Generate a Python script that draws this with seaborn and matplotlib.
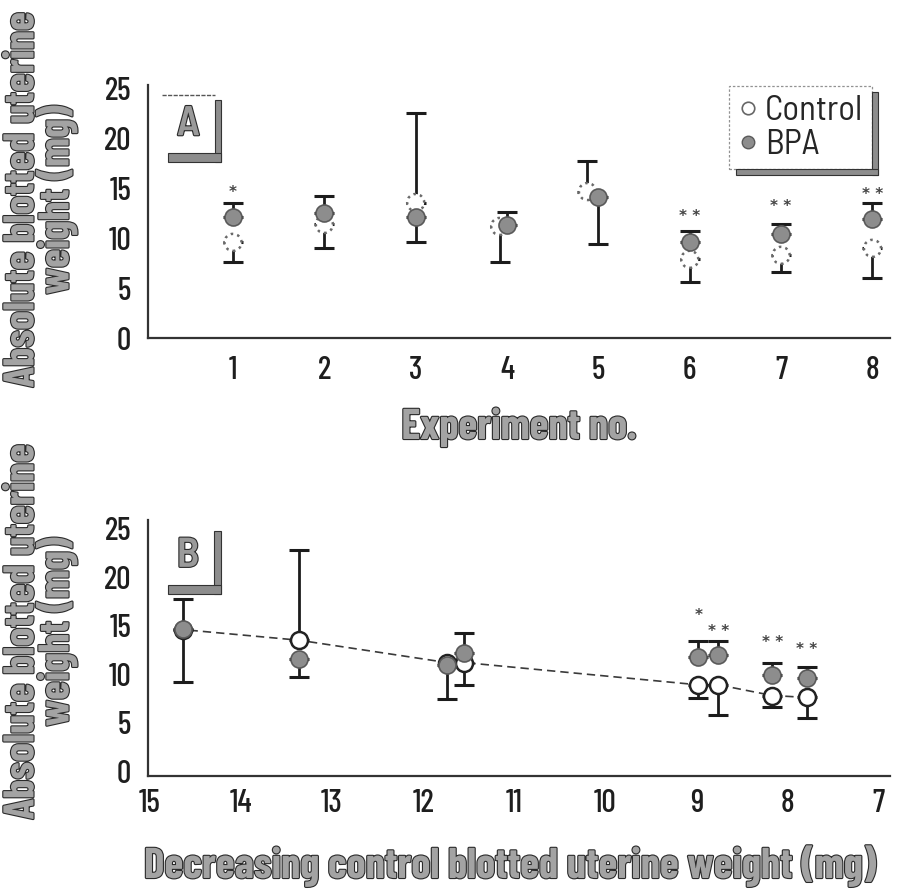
import numpy as np
import pandas as pd
import matplotlib
matplotlib.use("Agg")
import matplotlib.pyplot as plt
import matplotlib.patheffects as pe
from matplotlib.patches import Rectangle
from matplotlib.lines import Line2D
import seaborn as sns

# ---------------- data ----------------
experiments = [1, 2, 3, 4, 5, 6, 7, 8]
a_control = [9.6, 11.4, 13.6, 11.2, 14.7, 7.9, 8.3, 9.0]
a_bpa = [12.1, 12.5, 12.1, 11.3, 14.2, 9.6, 10.4, 11.9]
a_bar_top = [13.6, 14.3, 22.6, 12.7, 17.8, 10.7, 11.4, 13.6]
a_bar_bottom = [7.6, 9.0, 9.6, 7.6, 9.4, 5.6, 6.6, 6.0]
a_signif = ["*", "", "", "", "", "* *", "* *", "* *"]
a_signif_y = [14.6, np.nan, np.nan, np.nan, np.nan, 12.2, 13.2, 14.4]

b_control_mean = [14.64, 13.36, 11.74, 11.55, 8.98, 8.76, 8.17, 7.79]
b_control = [14.6, 13.5, 11.2, 11.2, 8.9, 8.9, 7.8, 7.6]
b_bpa = [14.7, 11.6, 10.9, 12.2, 11.8, 12.0, 9.9, 9.6]
b_bar_top = [17.8, 22.8, np.nan, 14.2, 13.4, 13.4, 11.2, 10.7]
b_bar_bottom = [9.2, 9.7, 7.4, 8.9, 7.5, 5.8, 6.6, 5.5]
b_signif = ["", "", "", "", "*", "* *", "* *", "* *"]
b_signif_y = [np.nan, np.nan, np.nan, np.nan, 16.1, 14.4, 13.3, 12.5]

y_ticks = [0, 5, 10, 15, 20, 25]
b_x_ticks = [15, 14, 13, 12, 11, 10, 9, 8, 7]
ylabel_text = "Absolute blotted uterine\nweight (mg)"
a_xlabel = "Experiment no."
b_xlabel = "Decreasing control blotted uterine weight (mg)"
legend_labels = ["Control", "BPA"]

# small horizontal dodge of control markers in panel A (style only)
a_dodge = [0, 0, 0, -0.08, -0.12, 0, 0, 0]

# ---------------- style ----------------
sns.set_style("white")
COND = ["Barlow Condensed", "DejaVu Sans"]
SEMI = ["Barlow Semi Condensed", "DejaVu Sans"]
plt.rcParams["font.family"] = COND

FILL = "#8d8d8d"
FILL_EDGE = "#5a5a5a"
BAR = "#1c1c1c"
TICK_COLOR = "#1e1e1e"
outline = [pe.Stroke(linewidth=1.6, foreground="#2a2a2a"), pe.Normal()]

fig = plt.figure(figsize=(8.97, 8.91), dpi=100)
axA = fig.add_axes([0.165, 1 - 338 / 891, 0.827, (338 - 85) / 891])
axB = fig.add_axes([0.165, 1 - 776 / 891, 0.827, (776 - 520) / 891])


def draw_bars(ax, xc, yc, xb, yb, top, bottom):
    xc, yc, xb, yb = map(np.asarray, (xc, yc, xb, yb))
    top, bottom = np.asarray(top, float), np.asarray(bottom, float)
    hi_is_ctrl = yc >= yb
    x_hi = np.where(hi_is_ctrl, xc, xb)
    y_hi = np.where(hi_is_ctrl, yc, yb)
    x_lo = np.where(hi_is_ctrl, xb, xc)
    y_lo = np.where(hi_is_ctrl, yb, yc)
    m = ~np.isnan(top)
    ax.errorbar(x_hi[m], y_hi[m], yerr=[np.zeros(m.sum()), top[m] - y_hi[m]],
                fmt="none", ecolor=BAR, elinewidth=2.0, capsize=7, capthick=2.2,
                zorder=2)
    m = ~np.isnan(bottom)
    ax.errorbar(x_lo[m], y_lo[m], yerr=[y_lo[m] - bottom[m], np.zeros(m.sum())],
                fmt="none", ecolor=BAR, elinewidth=2.0, capsize=7, capthick=2.2,
                zorder=2)


def panel_box(ax, letter, x0, y0, w, h, top_line=True):
    ax.add_patch(Rectangle((x0, y0), w, h, transform=ax.transAxes,
                           facecolor="white", edgecolor="none", clip_on=False,
                           zorder=4))
    if top_line:
        ax.add_line(Line2D([x0, x0 + w], [y0 + h, y0 + h], transform=ax.transAxes,
                           color="#555", lw=1.0, ls=(0, (3, 1)), clip_on=False,
                           zorder=5))
    sw, sh = 0.009, 0.035
    ax.add_patch(Rectangle((x0 + w, y0 - sh), sw, h * 0.92 + sh,
                           transform=ax.transAxes, facecolor=FILL,
                           edgecolor="#333", lw=0.8, clip_on=False, zorder=5))
    ax.add_patch(Rectangle((x0 + 0.008, y0 - sh), w - 0.008 + sw, sh,
                           transform=ax.transAxes, facecolor=FILL,
                           edgecolor="#333", lw=0.8, clip_on=False, zorder=5))
    ax.text(x0 + w / 2, y0 + h * 0.5, letter, transform=ax.transAxes,
            ha="center", va="center", fontsize=30, fontweight="semibold",
            family=SEMI, color="#9a9a9a", path_effects=outline, zorder=6)


def style_axes(ax):
    sns.despine(ax=ax)
    for s in ("left", "bottom"):
        ax.spines[s].set_linewidth(1.6)
        ax.spines[s].set_color("#333")
    ax.tick_params(length=0, labelsize=23, colors=TICK_COLOR)
    for lab in ax.get_xticklabels() + ax.get_yticklabels():
        lab.set_fontweight("medium")
    ax.set_xlabel("")
    ax.set_ylabel("")
    ax.grid(False)


# ---------------- panel A ----------------
a_ctrl_x = np.array(experiments) + np.array(a_dodge)
dfA_c = pd.DataFrame({"x": a_ctrl_x, "y": a_control})
dfA_b = pd.DataFrame({"x": experiments, "y": a_bpa})
draw_bars(axA, a_ctrl_x, a_control, experiments, a_bpa, a_bar_top, a_bar_bottom)
sns.scatterplot(data=dfA_c, x="x", y="y", ax=axA, s=150, color="white",
                edgecolor="#6a6a6a", linewidth=1.8, linestyle=":", zorder=3,
                legend=False)
sns.scatterplot(data=dfA_b, x="x", y="y", ax=axA, s=150, color=FILL,
                edgecolor=FILL_EDGE, linewidth=1.2, zorder=4, legend=False)
for x, t, y in zip(experiments, a_signif, a_signif_y):
    if t:
        axA.text(x, y, t, ha="center", va="center", fontsize=11,
                 family="DejaVu Sans", color="#444", fontweight="bold")

axA.set_xlim(0.07, 8.19)
axA.set_ylim(0, 25.4)
axA.set_xticks(experiments)
axA.set_yticks(y_ticks)
style_axes(axA)
axA.tick_params(axis="x", pad=13)
axA.tick_params(axis="y", pad=12)

panel_box(axA, "A", 0.019, 0.73, 0.071, 0.23)

handles = [Line2D([], [], ls="", marker="o", ms=9, mfc="white", mec="#666",
                  mew=1.2, label=legend_labels[0]),
           Line2D([], [], ls="", marker="o", ms=9, mfc=FILL, mec=FILL_EDGE,
                  mew=1.0, label=legend_labels[1])]
leg = axA.legend(handles=handles, loc="upper right", bbox_to_anchor=(0.976, 0.995),
                 frameon=True, fancybox=False, edgecolor="#777",
                 prop={"size": 25, "family": SEMI}, handlelength=0.6,
                 handletextpad=0.2, borderpad=0.25, labelspacing=0.05,
                 borderaxespad=0.0)
leg.get_frame().set_linewidth(0.9)
leg.get_frame().set_linestyle((0, (2, 1.5)))
leg.set_zorder(7)

# ---------------- panel B ----------------
dfB_line = pd.DataFrame({"x": b_control_mean, "y": b_control})
sns.lineplot(data=dfB_line, x="x", y="y", ax=axB, color="#3a3a3a", lw=1.2,
             linestyle=(0, (5, 3)), zorder=1, sort=True)
draw_bars(axB, b_control_mean, b_control, b_control_mean, b_bpa,
          b_bar_top, b_bar_bottom)
sns.scatterplot(data=dfB_line, x="x", y="y", ax=axB, s=150, color="white",
                edgecolor="#222", linewidth=1.8, zorder=3, legend=False)
dfB_b = pd.DataFrame({"x": b_control_mean, "y": b_bpa})
sns.scatterplot(data=dfB_b, x="x", y="y", ax=axB, s=150, color=FILL,
                edgecolor=FILL_EDGE, linewidth=1.2, zorder=4, legend=False)
for x, t, y in zip(b_control_mean, b_signif, b_signif_y):
    if t:
        axB.text(x, y, t, ha="center", va="center", fontsize=11,
                 family="DejaVu Sans", color="#444", fontweight="bold")

axB.set_xlim(15.02, 6.88)
axB.set_ylim(-0.5, 25.9)
axB.set_xticks(b_x_ticks)
axB.set_yticks(y_ticks)
style_axes(axB)
axB.tick_params(axis="x", pad=9)
axB.tick_params(axis="y", pad=12)

panel_box(axB, "B", 0.019, 0.745, 0.07, 0.23, top_line=False)

# ---------------- axis titles ----------------
label_kw = dict(fontsize=31, fontweight="bold", color="#a3a3a3",
                path_effects=outline)
for yc in (1 - 200 / 891, 1 - 632 / 891):
    fig.text(40 / 897, yc, ylabel_text, rotation=90, ha="center",
             va="center", multialignment="center", linespacing=0.82,
             **label_kw)
fig.text(519 / 897, 1 - 427 / 891, a_xlabel, ha="center", va="center",
         **label_kw)
fig.text(510 / 897, 1 - 866 / 891, b_xlabel, ha="center", va="center",
         **label_kw)

# ---------------- legend shadow ----------------
fig.canvas.draw()
bb = leg.get_window_extent().transformed(axA.transAxes.inverted())
sw, sh = 0.008, 0.024
axA.add_patch(Rectangle((bb.x1, bb.y0 - sh), sw, bb.height * 0.93 + sh,
                        transform=axA.transAxes, facecolor=FILL,
                        edgecolor="#333", lw=0.8, clip_on=False, zorder=8))
axA.add_patch(Rectangle((bb.x0 + 0.01, bb.y0 - sh), bb.width - 0.01 + sw, sh,
                        transform=axA.transAxes, facecolor=FILL,
                        edgecolor="#333", lw=0.8, clip_on=False, zorder=8))

fig.savefig("out.png", dpi=100)
